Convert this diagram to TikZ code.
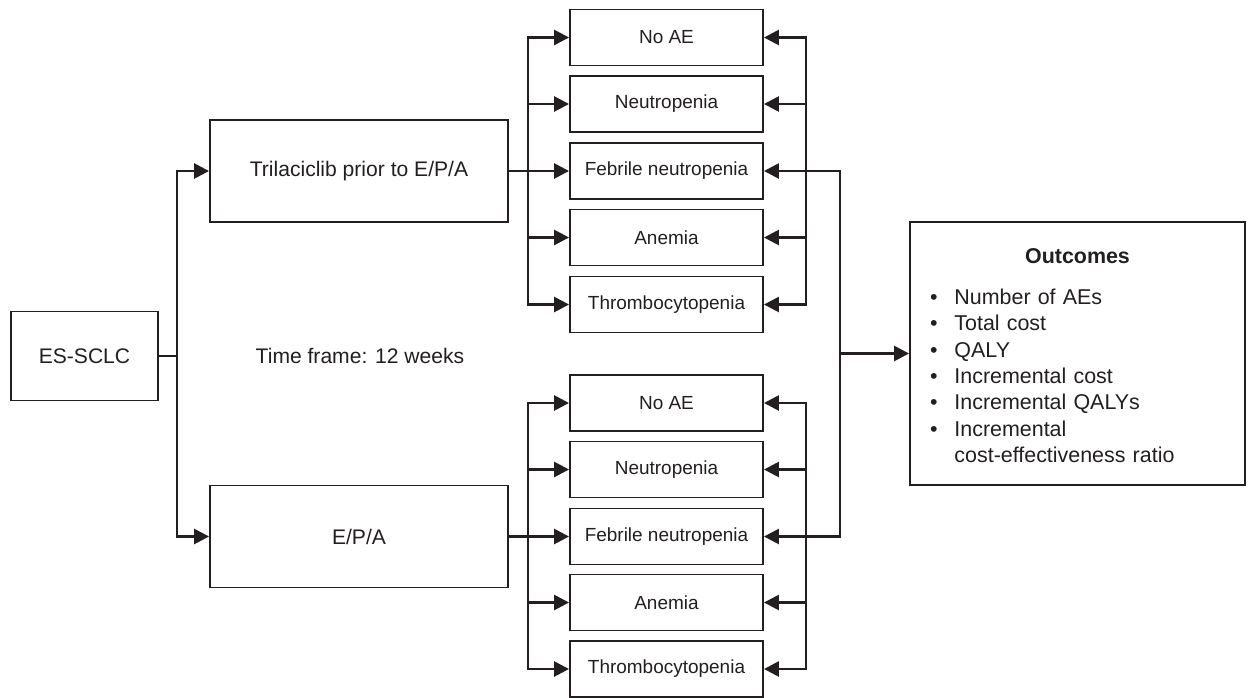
\documentclass[tikz,border=0pt]{standalone}
\usepackage{fontspec}
\setmainfont{Liberation Sans}
\definecolor{flowInk}{HTML}{231F20}
\usepackage{tikz}
\usetikzlibrary{arrows.meta, calc}

\begin{document}
\begin{tikzpicture}[
  x=0.02cm, y=-0.02cm,
  box/.style={
    draw=flowInk, line width=1.1pt, inner sep=0pt,
    text=flowInk, font=\fontsize{12}{14.4}\selectfont
  },
  armbox/.style={box, minimum width=5.96cm, minimum height=2.04cm},
  aebox/.style={box, minimum width=3.86cm, minimum height=1.12cm,
    font=\fontsize{10.8}{13}\selectfont},
  arrow/.style={-{Triangle[length=8.5pt, width=8.5pt]}, line width=1.5pt, color=flowInk},
  link/.style={line width=1.5pt, color=flowInk}
]
  \useasboundingbox (0,0) rectangle (1248,697);

  \node[box, minimum width=2.94cm, minimum height=1.78cm] (es) at (84.5,356) {ES-SCLC};
  \node[armbox] (tri) at (359,171) {Trilaciclib prior to E/P/A};
  \node[armbox] (epa) at (359,536.5) {E/P/A};
  \node[text=flowInk, font=\fontsize{12}{14.4}\selectfont] (tf) at (360,356) {Time frame: 12 weeks};

  % adverse events, trilaciclib arm
  \node[aebox] (noA) at (666.5,37.5) {No AE};
  \node[aebox] (neA) at (666.5,104) {Neutropenia};
  \node[aebox] (fnA) at (666.5,171) {Febrile neutropenia};
  \node[aebox] (anA) at (666.5,237.5) {Anemia};
  \node[aebox] (thA) at (666.5,304.5) {Thrombocytopenia};

  % adverse events, E/P/A arm
  \node[aebox] (noB) at (666.5,403) {No AE};
  \node[aebox] (neB) at (666.5,469.5) {Neutropenia};
  \node[aebox] (fnB) at (666.5,536.5) {Febrile neutropenia};
  \node[aebox] (anB) at (666.5,602.5) {Anemia};
  \node[aebox] (thB) at (666.5,669) {Thrombocytopenia};

  \node[box, minimum width=6.7cm, minimum height=5.26cm, text width=6.7cm,
    font=\fontsize{12.2}{15}\selectfont] (out) at (1077.5,353.5) {%
    {\centering\rule{0pt}{15.5pt}\textbf{Outcomes}\par}\vspace{8pt}%
    \hspace*{11.5pt}\begin{tabular}[t]{@{}l@{\hspace{9.5pt}}l@{}}
      \textbullet & Number of AEs\\
      \textbullet & Total cost\\
      \textbullet & QALY\\
      \textbullet & Incremental cost\\
      \textbullet & Incremental QALYs\\
      \textbullet & Incremental\\
                  & cost-effectiveness ratio
    \end{tabular}\par};

  \coordinate (split) at (177,356);
  \coordinate (fanA) at (528,171);
  \coordinate (fanB) at (528,536.5);
  \coordinate (backA) at (806,171);
  \coordinate (backB) at (806,536.5);
  \coordinate (join) at (840,353.5);

  \draw[link] (es.east) -- (split);
  \draw[arrow] (split) |- (tri.west);
  \draw[arrow] (split) |- (epa.west);

  \draw[link] (tri.east) -- (fanA);
  \draw[arrow] (fanA) |- (noA.west);
  \draw[arrow] (fanA) |- (neA.west);
  \draw[arrow] (fanA) -- (fnA.west);
  \draw[arrow] (fanA) |- (anA.west);
  \draw[arrow] (fanA) |- (thA.west);

  \draw[link] (epa.east) -- (fanB);
  \draw[arrow] (fanB) |- (noB.west);
  \draw[arrow] (fanB) |- (neB.west);
  \draw[arrow] (fanB) -- (fnB.west);
  \draw[arrow] (fanB) |- (anB.west);
  \draw[arrow] (fanB) |- (thB.west);

  \draw[arrow] (backA) |- (noA.east);
  \draw[arrow] (backA) |- (neA.east);
  \draw[arrow] (backA) |- (anA.east);
  \draw[arrow] (backA) |- (thA.east);

  \draw[arrow] (backB) |- (noB.east);
  \draw[arrow] (backB) |- (neB.east);
  \draw[arrow] (backB) |- (anB.east);
  \draw[arrow] (backB) |- (thB.east);

  \draw[arrow] (join) |- (fnA.east);
  \draw[arrow] (join) |- (fnB.east);
  \draw[arrow] (join) -- (out.west);
\end{tikzpicture}
\end{document}
